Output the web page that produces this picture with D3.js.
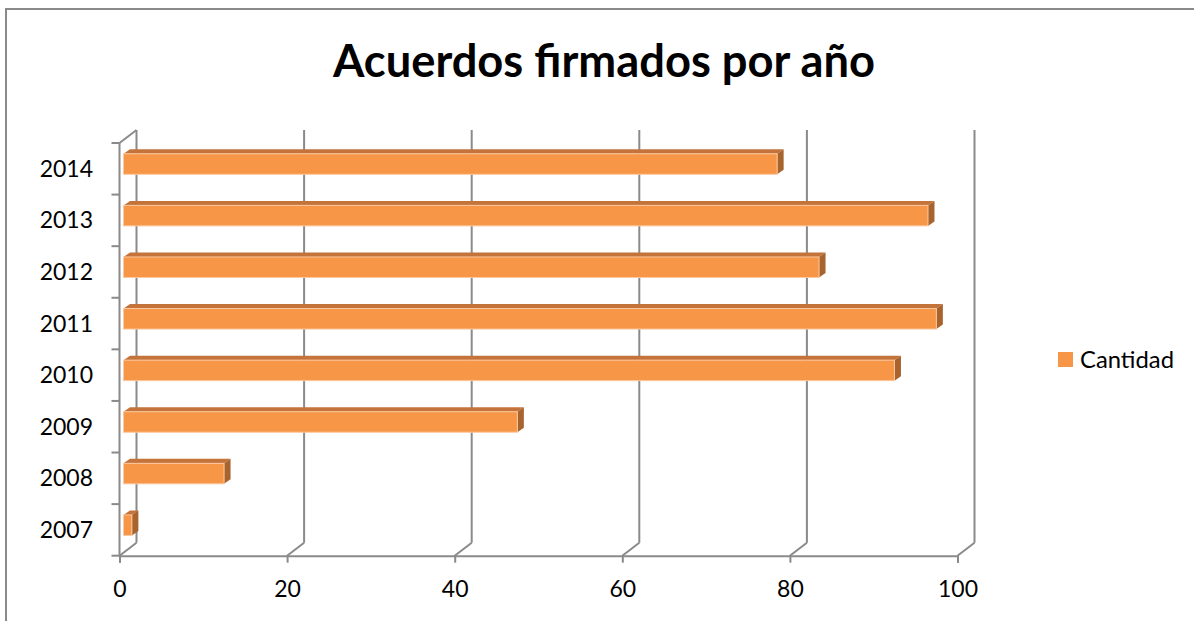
<!DOCTYPE html>
<html><head><meta charset="utf-8">
<script src="https://cdn.jsdelivr.net/npm/d3@7"></script>
<style>html,body{margin:0;padding:0;background:#fff;}svg{display:block;}</style>
</head><body>
<script>
const title = "Acuerdos firmados por año";
const categories = ["2007","2008","2009","2010","2011","2012","2013","2014"];
const values = [1, 12, 47, 92, 97, 83, 96, 78];
const xTicks = [0, 20, 40, 60, 80, 100];
const seriesName = "Cantidad";

const W = 1194, H = 621;
const svg = d3.select("body").append("svg").attr("width", W).attr("height", H);
const font = "Lato, 'Open Sans', sans-serif";
const gray = "#8a8a8a";

// outer border
svg.append("rect").attr("x",6).attr("y",9).attr("width",1300).attr("height",800)
  .attr("fill","none").attr("stroke",gray).attr("stroke-width",2);

// title fitted to width
const t = svg.append("text").attr("x",604).attr("y",77).attr("text-anchor","middle")
  .style("font-family",font).style("font-weight","700").style("font-size","44px")
  .attr("fill","#000").text(title);
const tw = t.node().getComputedTextLength();
t.style("font-size", (44*542/tw).toFixed(2)+"px");

const x = d3.scaleLinear().domain([0,100]).range([119.5,957.5]);
const yTop = 143, yBot = 555.7;
const y = d3.scaleBand().domain(categories.slice().reverse()).range([yTop, yBot]).padding(0);
const DX = 17, DY = -13;   // wall depth
const bdx = 6.5, bdy = -4.5; // bar depth
const barOff = 4;

const g = svg.append("g");
// back wall gridlines
xTicks.forEach(v => {
  g.append("line").attr("x1",x(v)+DX).attr("x2",x(v)+DX).attr("y1",yTop+DY).attr("y2",yBot+DY)
    .attr("stroke",gray).attr("stroke-width",2);
  g.append("line").attr("x1",x(v)).attr("x2",x(v)+DX).attr("y1",yBot).attr("y2",yBot+DY)
    .attr("stroke",gray).attr("stroke-width",2);
});
// left wall outline
g.append("line").attr("x1",x(0)).attr("x2",x(0)).attr("y1",yTop).attr("y2",yBot)
  .attr("stroke",gray).attr("stroke-width",2);
g.append("line").attr("x1",x(0)).attr("x2",x(0)+DX).attr("y1",yTop).attr("y2",yTop+DY)
  .attr("stroke",gray).attr("stroke-width",2);
// y ticks at band boundaries
const bounds = categories.map(c => y(c)).concat([yBot]);
bounds.forEach(b => {
  g.append("line").attr("x1",x(0)-8).attr("x2",x(0)).attr("y1",b).attr("y2",b)
    .attr("stroke",gray).attr("stroke-width",2);
});
// x axis
const xAxis = d3.axisBottom(x).tickValues(xTicks).tickSize(7).tickPadding(18).tickFormat(d3.format("d"));
const ax = svg.append("g").attr("transform",`translate(0,${yBot})`).call(xAxis);
ax.select(".domain").attr("stroke",gray).attr("stroke-width",2);
ax.selectAll(".tick line").attr("stroke",gray).attr("stroke-width",2);
ax.selectAll(".tick text").style("font-family",font).style("font-size","23px").attr("fill","#000");

// y labels
svg.append("g").selectAll("text").data(categories).join("text")
  .attr("x",93).attr("y",d => y(d)+y.bandwidth()/2+8).attr("text-anchor","end")
  .style("font-family",font).style("font-size","23px").attr("fill","#000").text(d => d);

// bars
const bars = svg.append("g").selectAll("g").data(categories.map((c,i)=>({c, v: values[i]}))).join("g");
bars.each(function(d){
  const gg = d3.select(this);
  const x0 = x(0)+barOff, x1 = x0 + (x(d.v)-x(0));
  const y0 = y(d.c)+y.bandwidth()/2-15, h = 20.5;
  gg.append("path").attr("d",`M${x0},${y0}L${x0+bdx},${y0+bdy}L${x1+bdx},${y0+bdy}L${x1},${y0}Z`)
    .attr("fill","#c4733a");
  gg.append("path").attr("d",`M${x1},${y0}L${x1+bdx},${y0+bdy}L${x1+bdx},${y0+bdy+h}L${x1},${y0+h}Z`)
    .attr("fill","#a8642f");
  gg.append("rect").attr("x",x0).attr("y",y0).attr("width",x1-x0).attr("height",h)
    .attr("fill","#f79646").attr("stroke","#fbc8a0").attr("stroke-width",1);
});

// legend
svg.append("rect").attr("x",1058).attr("y",352).attr("width",15).attr("height",15).attr("fill","#f79646");
const lt = svg.append("text").attr("x",1080).attr("y",368).style("font-family",font).style("font-size","22px")
  .attr("fill","#000").text(seriesName);
const lw = lt.node().getComputedTextLength();
lt.style("font-size", (22*94/lw).toFixed(2)+"px");
</script>
</body></html>
